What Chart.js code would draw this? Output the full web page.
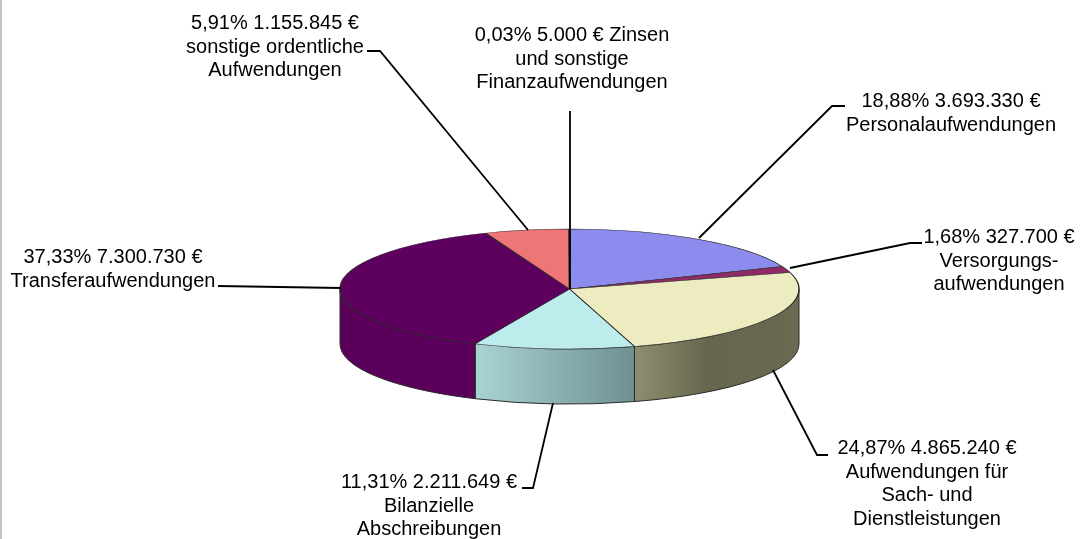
<!DOCTYPE html>
<html>
<head>
<meta charset="utf-8">
<style>
  body { margin: 0; background: #fff; overflow: hidden; }
  #wrap { position: relative; width: 1083px; height: 539px; }
  #edge { position: absolute; left: 0; top: 0; width: 2px; height: 539px; background: #c4c4c4; }
  canvas { position: absolute; left: 0; top: 0; }
</style>
</head>
<body>
<div id="wrap">
  <canvas id="pieChart" width="1083" height="539"></canvas>
  <div id="edge"></div>
</div>
<script src="https://cdn.jsdelivr.net/npm/chart.js@4"></script>
<script>
// Aufwendungen in Euro, clockwise from 12 o'clock
const categories = ['Personalaufwendungen', 'Versorgungsaufwendungen', 'Sach- und Dienstleistungen',
    'Bilanzielle Abschreibungen', 'Transferaufwendungen', 'sonstige ordentliche Aufwendungen', 'Zinsen'];
const amounts = [3693330, 327700, 4865240, 2211649, 7300730, 1155845, 5000];

const labelTexts = [
    ['18,88% 3.693.330 €', 'Personalaufwendungen'],
    ['1,68% 327.700 €', 'Versorgungs-', 'aufwendungen'],
    ['24,87% 4.865.240 €', 'Aufwendungen für', 'Sach- und', 'Dienstleistungen'],
    ['11,31% 2.211.649 €', 'Bilanzielle', 'Abschreibungen'],
    ['37,33% 7.300.730 €', 'Transferaufwendungen'],
    ['5,91% 1.155.845 €', 'sonstige ordentliche', 'Aufwendungen'],
    ['0,03% 5.000 € Zinsen', 'und sonstige', 'Finanzaufwendungen']
];

const topColors = ['#8c8cee', '#8e2a66', '#ececc0', '#bcecec', '#5e005e', '#ee7676', '#ee7676'];
const wallColors = [
    ['#6a6ab0', '#6a6ab0', '#6a6ab0'], ['#6a2050', '#6a2050', '#6a2050'], ['#8e8e70', '#66664e', '#6a6a52'],
    ['#a9d4d4', '#90b4b4', '#6e9090'], ['#5a005a', '#5a005a', '#5a005a'], ['#b05858', '#b05858', '#b05858'], ['#b05858', '#b05858', '#b05858']
];

// label placement: centre x, first baseline y
const labelPos = [[951, 107], [999, 243], [927, 454], [429, 488], [113, 263], [275, 29], [572, 41]];
const lineHeight = 23.5;

const leaders = [
    [[845, 106], [832, 106], [699, 238]],
    [[922, 243], [910, 243], [790, 268]],
    [[828, 455], [817, 455], [773, 370]],
    [[522, 488], [533, 488], [553, 403]],
    [[218, 286], [341, 288]],
    [[367, 51], [380, 51], [528, 230]],
    [[570, 111], [570, 289]]
];

const centerX = 569.5, centerY = 289;
const radius = 229.5;
const squash = 60 / 229.5;
const depth = 55;

function wallPath(ctx, r, ry, a0, a1) {
    ctx.beginPath();
    ctx.ellipse(centerX, centerY, r, ry, 0, a0, a1);
    ctx.ellipse(centerX, centerY + depth, r, ry, 0, a1, a0, true);
    ctx.closePath();
}

const tiltPlugin = {
    id: 'tilt',
    beforeDatasetsDraw(chart) {
        const ctx = chart.ctx;
        const arcs = chart.getDatasetMeta(0).data;
        const ry = radius * squash;

        // outer wall, only the part facing the viewer
        arcs.forEach((arc, i) => {
            const a0 = Math.max(arc.startAngle, 0);
            const a1 = Math.min(arc.endAngle, Math.PI);
            if (a1 <= a0) return;
            const g = ctx.createLinearGradient(centerX + Math.cos(a1) * radius, 0, centerX + Math.cos(a0) * radius, 0);
            g.addColorStop(0, wallColors[i][0]);
            g.addColorStop(0.45, wallColors[i][1]);
            g.addColorStop(1, wallColors[i][2]);
            wallPath(ctx, radius, ry, a0, a1);
            ctx.fillStyle = g;
            ctx.fill();
            ctx.strokeStyle = '#2a2a2a';
            ctx.lineWidth = 1;
            ctx.stroke();
        });

        // top face: the library's arcs, flattened into an ellipse
        const c = arcs[0];
        ctx.save();
        ctx.translate(centerX, centerY);
        ctx.scale(1, squash);
        ctx.translate(-c.x, -c.y);
    },
    afterDatasetsDraw(chart) {
        const ctx = chart.ctx;
        ctx.restore();

        ctx.strokeStyle = '#000';
        ctx.lineWidth = 1.8;
        leaders.forEach(pts => {
            ctx.beginPath();
            pts.forEach((p, i) => i ? ctx.lineTo(p[0], p[1]) : ctx.moveTo(p[0], p[1]));
            ctx.stroke();
        });

        ctx.fillStyle = '#000';
        ctx.font = '20px "Liberation Sans", Arial, sans-serif';
        ctx.textAlign = 'center';
        ctx.textBaseline = 'alphabetic';
        labelTexts.forEach((lines, i) => {
            lines.forEach((line, j) => {
                ctx.fillText(line, labelPos[i][0], labelPos[i][1] + j * lineHeight);
            });
        });
    }
};

new Chart(document.getElementById('pieChart').getContext('2d'), {
    type: 'pie',
    data: {
        labels: categories,
        datasets: [{
            data: amounts,
            backgroundColor: topColors,
            borderColor: '#2a2a2a',
            borderWidth: 1.4,
            radius: radius
        }]
    },
    options: {
        responsive: false,
        animation: false,
        layout: { padding: 0 },
        plugins: { legend: { display: false }, tooltip: { enabled: false } }
    },
    plugins: [tiltPlugin]
});
</script>
</body>
</html>
